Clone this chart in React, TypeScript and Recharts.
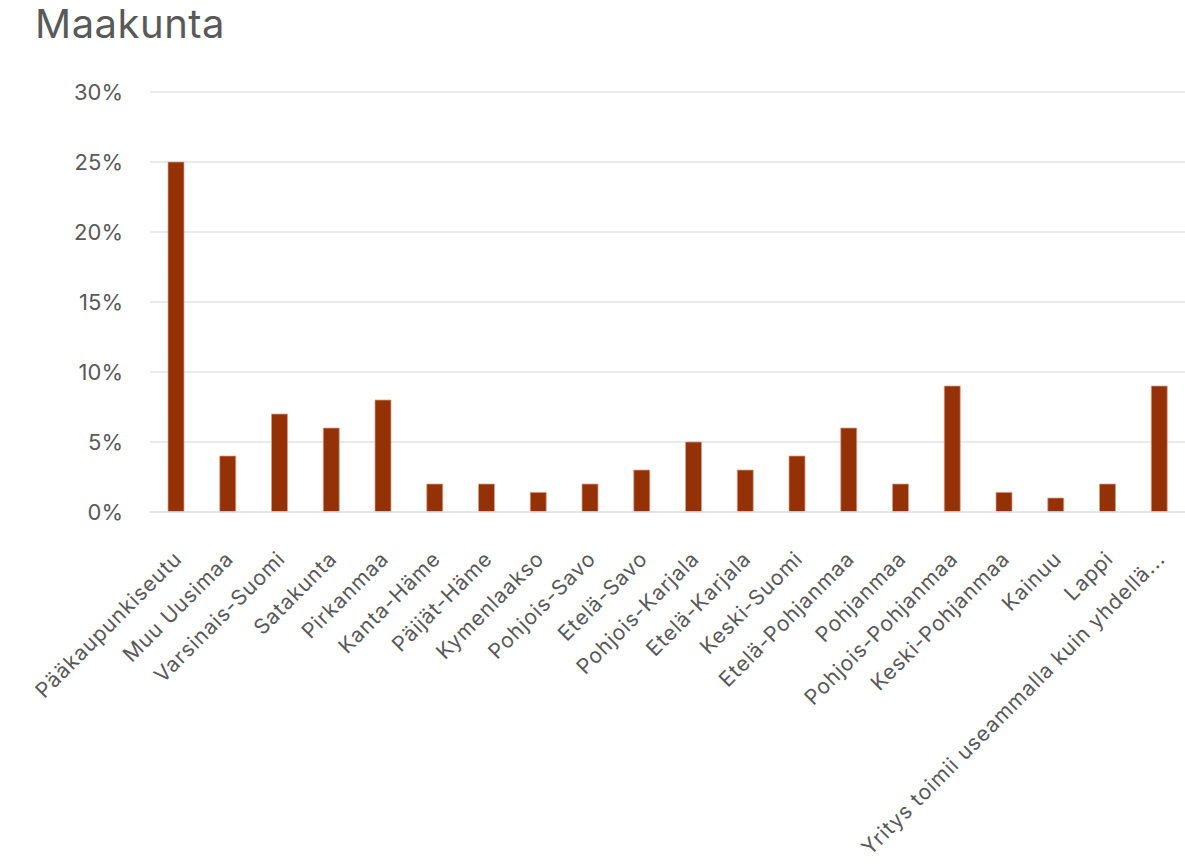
import React from 'react';
import { BarChart, Bar, XAxis, YAxis, CartesianGrid } from 'recharts';

const regions = [
    'Pääkaupunkiseutu',
    'Muu Uusimaa',
    'Varsinais-Suomi',
    'Satakunta',
    'Pirkanmaa',
    'Kanta-Häme',
    'Päijät-Häme',
    'Kymenlaakso',
    'Pohjois-Savo',
    'Etelä-Savo',
    'Pohjois-Karjala',
    'Etelä-Karjala',
    'Keski-Suomi',
    'Etelä-Pohjanmaa',
    'Pohjanmaa',
    'Pohjois-Pohjanmaa',
    'Keski-Pohjanmaa',
    'Kainuu',
    'Lappi',
    'Yritys toimii useammalla kuin yhdellä...',
];

const shares = [25, 4, 7, 6, 8, 2, 2, 1.4, 2, 3, 5, 3, 4, 6, 2, 9, 1.4, 1, 2, 9];

const yTicks = [0, 5, 10, 15, 20, 25, 30];

const FONT = 'Inter, "Noto Sans", sans-serif';
const TEXT = '#595959';

const data = regions.map((name, i) => ({ name, value: shares[i] }));

const RotatedTick = ({ x, y, payload }: any) => (
    <g transform={`translate(${x + 2},${y + 35})`}>
        <text
            transform="rotate(-45)"
            textAnchor="end"
            dy="0.35em"
            fill={TEXT}
            fontSize={21}
            letterSpacing={0.9}
            fontFamily={FONT}
        >
            {payload.value}
        </text>
    </g>
);

export default function App() {
    return (
        <div style={{ position: 'absolute', left: 0, top: 0, width: 1185, height: 867, background: '#fff' }}>
            <div
                style={{
                    position: 'absolute',
                    left: 35,
                    top: 4,
                    fontFamily: FONT,
                    fontSize: 40,
                    lineHeight: 1,
                    letterSpacing: 0.5,
                    color: TEXT,
                }}
            >
                Maakunta
            </div>
            <BarChart
                width={1185}
                height={867}
                data={data}
                margin={{ top: 92, right: 0, bottom: 0, left: 0 }}
                barCategoryGap={0}
            >
                <CartesianGrid vertical={false} stroke="#e3e3e3" strokeWidth={1.5} />
                <XAxis
                    dataKey="name"
                    interval={0}
                    height={355}
                    axisLine={{ stroke: '#e3e3e3', strokeWidth: 1.5 }}
                    tickLine={false}
                    tick={<RotatedTick />}
                />
                <YAxis
                    domain={[0, 30]}
                    ticks={yTicks}
                    width={150}
                    axisLine={false}
                    tickLine={false}
                    tickSize={0}
                    tickMargin={27}
                    tickFormatter={(v: number) => `${v}%`}
                    tick={{ fill: TEXT, fontSize: 22, fontFamily: FONT }}
                />
                <Bar
                    dataKey="value"
                    fill="#943106"
                    stroke="#d8a08a"
                    strokeWidth={0.75}
                    barSize={16}
                    isAnimationActive={false}
                />
            </BarChart>
        </div>
    );
}
